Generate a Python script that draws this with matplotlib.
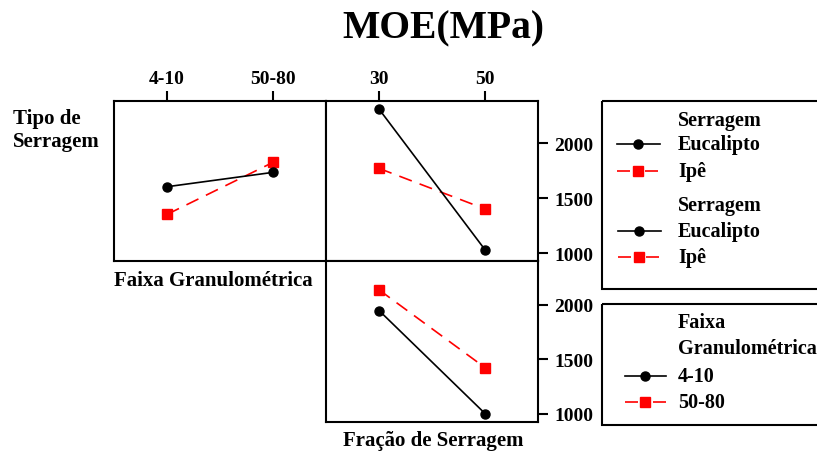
import matplotlib
matplotlib.use("Agg")
import matplotlib.pyplot as plt
from matplotlib.lines import Line2D
from matplotlib.patches import Rectangle

plt.rcParams['font.family'] = ['Liberation Serif', 'DejaVu Serif']
plt.rcParams['font.weight'] = 'bold'

# Factor levels
faixa_levels = ["4-10", "50-80"]
fracao_levels = ["30", "50"]
serragem_levels = ["Eucalipto", "Ipê"]
yticks = [1000, 1500, 2000]

# Mean MOE (MPa): sawdust type x particle size range
eucalipto_faixa = [1604, 1735]
ipe_faixa = [1352, 1826]
# Mean MOE (MPa): sawdust type x sawdust fraction
eucalipto_fracao = [2311, 1027]
ipe_fracao = [1771, 1401]
# Mean MOE (MPa): particle size range x sawdust fraction
faixa_4_10_fracao = [1948, 1000]
faixa_50_80_fracao = [2138, 1422]

W, H = 817, 452
fig = plt.figure(figsize=(W / 100, H / 100), dpi=100)

BLACK = "black"
RED = "#ff0000"
LW = 1.2
MS = 6.5
RED_LS = (0, (8, 5))
SPINE = 1.5
TICK_FS = 14


def px_axes(x0, y0, x1, y1, **kw):
    return fig.add_axes([x0 / W, 1 - y1 / H, (x1 - x0) / W, (y1 - y0) / H], **kw)


def style(ax, top_labels=None, right_ticks=False, ylim=(930, 2388)):
    ax.set_xlim(0.5, 2.5)
    ax.set_ylim(*ylim)
    for s in ax.spines.values():
        s.set_linewidth(SPINE)
    if top_labels is not None:
        ax.xaxis.tick_top()
        ax.set_xticks([1, 2])
        ax.set_xticklabels(top_labels)
        ax.tick_params(axis='x', length=7, width=SPINE, pad=3, labelsize=TICK_FS)
    else:
        ax.set_xticks([])
    if right_ticks:
        ax.yaxis.tick_right()
        ax.set_yticks(yticks)
        ax.tick_params(axis='y', length=7, width=SPINE, pad=4.5, labelsize=TICK_FS)
    else:
        ax.set_yticks([])


def draw_pair(ax, black_vals, red_vals):
    x = [1, 2]
    ax.plot(x, red_vals, color=RED, lw=LW, ls=RED_LS, marker='s', ms=MS,
            mec=RED, mfc=RED, zorder=2)
    ax.plot(x, black_vals, color=BLACK, lw=LW, marker='o', ms=MS,
            mec=BLACK, mfc=BLACK, zorder=3)


ax1 = px_axes(114, 101.7, 326, 261.7)
style(ax1, top_labels=faixa_levels)
draw_pair(ax1, eucalipto_faixa, ipe_faixa)

ax2 = px_axes(326, 101.7, 538.3, 261.7)
style(ax2, top_labels=fracao_levels, right_ticks=True)
draw_pair(ax2, eucalipto_fracao, ipe_fracao)

ax3 = px_axes(326, 261.7, 538.3, 423)
style(ax3, right_ticks=True, ylim=(924, 2406))
draw_pair(ax3, faixa_4_10_fracao, faixa_50_80_fracao)

# Overlay in pixel coordinates for titles, labels and legend boxes
ov = fig.add_axes([0, 0, 1, 1], zorder=-1)
ov.set_xlim(0, W)
ov.set_ylim(H, 0)
ov.set_axis_off()

ov.text(443, 38, "MOE(MPa)", fontsize=28.5, ha='center', va='baseline')
ov.text(13, 124, "Tipo de", fontsize=15, ha='left', va='baseline')
ov.text(13, 147, "Serragem", fontsize=15, ha='left', va='baseline')
ov.text(213, 286, "Faixa Granulométrica", fontsize=15, ha='center', va='baseline')
ov.text(433, 446, "Fração de Serragem", fontsize=15, ha='center', va='baseline')

# Legend boxes
ov.add_patch(Rectangle((602, 102), 240, 188, fill=False, lw=SPINE, ec=BLACK))
ov.add_patch(Rectangle((602, 305), 240, 121, fill=False, lw=SPINE, ec=BLACK))

LEG_FS = 14.5
TX = 678


def legend_entry(y, x0, x1, xm, label, red=False):
    if red:
        ov.add_line(Line2D([x0, x1], [y, y], color=RED, lw=LW, ls=(0, (7.8, 9))))
        ov.add_line(Line2D([xm], [y], color=RED, marker='s', ms=MS, ls='none'))
    else:
        ov.add_line(Line2D([x0, x1], [y, y], color=BLACK, lw=LW))
        ov.add_line(Line2D([xm], [y], color=BLACK, marker='o', ms=MS, ls='none'))
    ov.text(TX, y, label, fontsize=LEG_FS, ha='left', va='center')


ov.text(TX, 121, "Serragem", fontsize=LEG_FS, ha='left', va='center')
legend_entry(145, 617, 660, 638, serragem_levels[0])
legend_entry(172, 617, 660, 638, serragem_levels[1], red=True)
ov.text(TX, 206, "Serragem", fontsize=LEG_FS, ha='left', va='center')
legend_entry(232, 618, 661, 639, serragem_levels[0])
legend_entry(258, 618, 661, 639, serragem_levels[1], red=True)

ov.text(TX, 323, "Faixa", fontsize=LEG_FS, ha='left', va='center')
ov.text(TX, 349, "Granulométrica", fontsize=LEG_FS, ha='left', va='center')
legend_entry(377, 625, 666, 645, faixa_levels[0])
legend_entry(403, 625, 666, 645, faixa_levels[1], red=True)

fig.savefig("out.png", dpi=100)
